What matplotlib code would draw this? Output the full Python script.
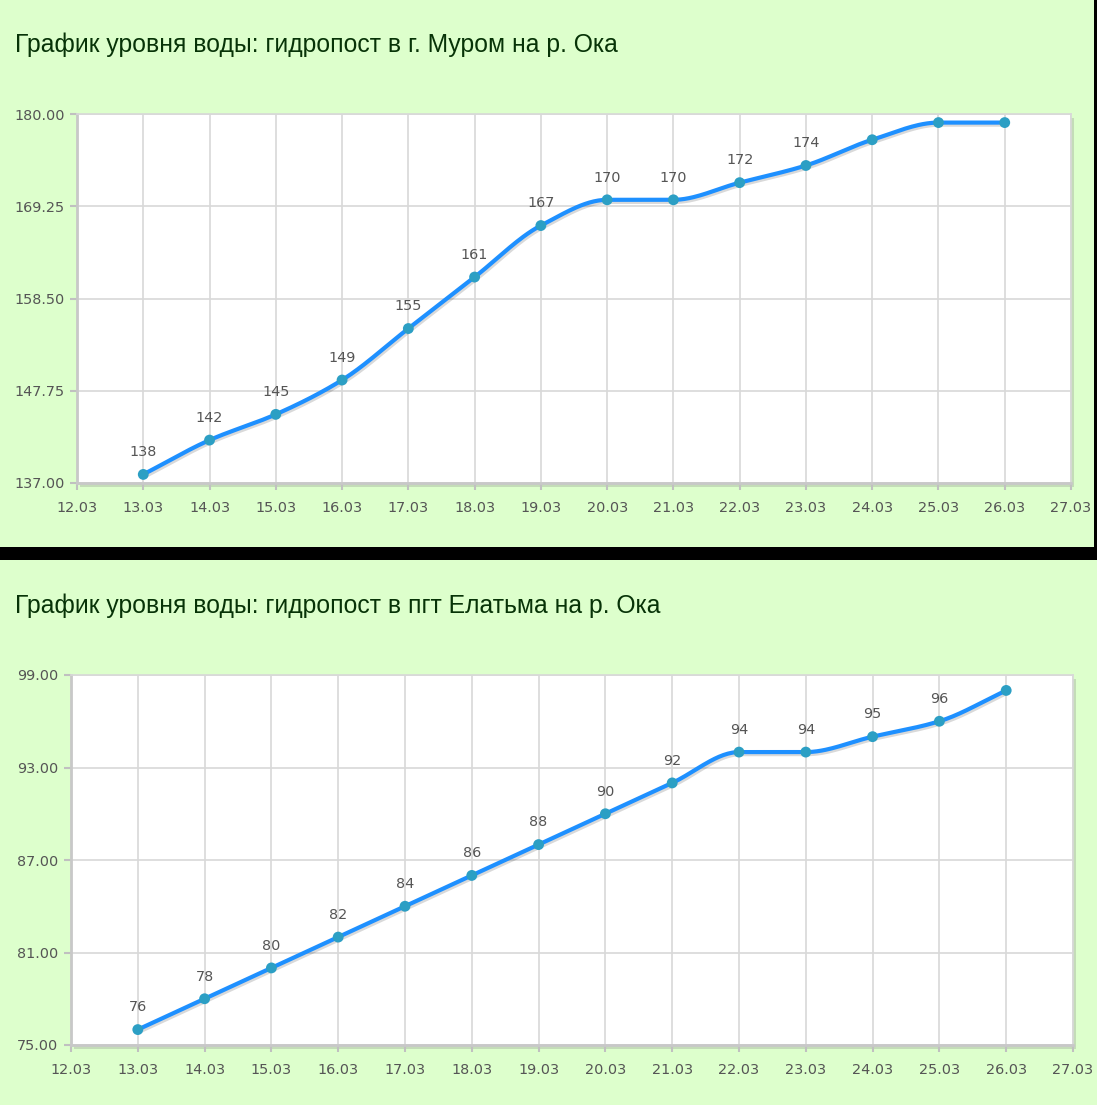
import numpy as np
import matplotlib
matplotlib.use('Agg')
import matplotlib.pyplot as plt
import matplotlib.patheffects as pe
from matplotlib.patches import Rectangle

# данные
dni = [13, 14, 15, 16, 17, 18, 19, 20, 21, 22, 23, 24, 25, 26]
murom = [138, 142, 145, 149, 155, 161, 167, 170, 170, 172, 174, 177, 179, 179]
elatma = [76, 78, 80, 82, 84, 86, 88, 90, 92, 94, 94, 95, 96, 98]
x_ticks = list(range(12, 28))
x_labels = ['%02d.03' % d for d in x_ticks]
murom_yticks = [137.00, 147.75, 158.50, 169.25, 180.00]
elatma_yticks = [75.00, 81.00, 87.00, 93.00, 99.00]

title_murom = 'График уровня воды: гидропост в г. Муром на р. Ока'
title_elatma = 'График уровня воды: гидропост в пгт Елатьма на р. Ока'

FON = '#ddffcc'
W, H = 1097, 1105


def pchip(x, y, n=30):
    # монотонная кубическая интерполяция (Fritsch-Carlson) для гладкой линии
    x = np.asarray(x, float)
    y = np.asarray(y, float)
    h = np.diff(x)
    d = np.diff(y) / h
    m = np.zeros_like(y)
    for i in range(1, len(y) - 1):
        if d[i - 1] * d[i] > 0:
            w1 = 2 * h[i] + h[i - 1]
            w2 = h[i] + 2 * h[i - 1]
            m[i] = (w1 + w2) / (w1 / d[i - 1] + w2 / d[i])
    m[0] = d[0]
    m[-1] = d[-1]
    xs, ys = [], []
    for i in range(len(x) - 1):
        t = np.linspace(0, 1, n, endpoint=False)
        h00 = 2 * t**3 - 3 * t**2 + 1
        h10 = t**3 - 2 * t**2 + t
        h01 = -2 * t**3 + 3 * t**2
        h11 = t**3 - t**2
        xs.append(x[i] + t * h[i])
        ys.append(h00 * y[i] + h10 * h[i] * m[i] + h01 * y[i + 1] + h11 * h[i] * m[i + 1])
    xs.append([x[-1]])
    ys.append([y[-1]])
    return np.concatenate(xs), np.concatenate(ys)


def panel(fig, rect, values, yticks, title, title_y):
    l, b, w, h = rect
    # тень области графика
    fig.patches.append(Rectangle((l + 3 / W, b - 4 / H), w, h, transform=fig.transFigure,
                                 facecolor='#c4dcb8', edgecolor='none', zorder=-5))
    ax = fig.add_axes(rect)
    ax.set_facecolor('white')
    ax.set_xlim(x_ticks[0], x_ticks[-1])
    ax.set_ylim(yticks[0], yticks[-1])
    ax.set_xticks(x_ticks)
    ax.set_xticklabels(x_labels)
    ax.set_yticks(yticks)
    ax.set_yticklabels(['%.2f' % v for v in yticks])
    ax.grid(True, color='#d8d8d8', linewidth=1.2)
    ax.set_axisbelow(True)
    for s in ax.spines.values():
        s.set_color('#d8d8d8')
        s.set_linewidth(1.2)
    ax.spines['left'].set_color('#c8c8c8')
    ax.spines['left'].set_linewidth(2)
    ax.spines['bottom'].set_color('#c8c8c8')
    ax.spines['bottom'].set_linewidth(2)
    ax.tick_params(axis='both', colors='#c0c0c0', labelcolor='#555555',
                   labelsize=10.4, length=5, width=1.5)
    ax.tick_params(axis='x', pad=8)
    ax.tick_params(axis='y', pad=4)

    xs, ys = pchip(dni, values)
    shadow = [pe.SimpleLineShadow(offset=(1, -1.5), shadow_color='black', alpha=0.15),
              pe.Normal()]
    ax.plot(xs, ys, color='#1e90ff', linewidth=3, solid_capstyle='round',
            path_effects=shadow, zorder=3)
    ax.plot(dni, values, 'o', color='#2c9fc4', markersize=7.8, markeredgewidth=0,
            path_effects=shadow, zorder=4)

    span = yticks[-1] - yticks[0]
    hpx = h * H
    for d, v in zip(dni, values):
        if (yticks[-1] - v) / span * hpx > 30:
            ax.annotate(str(v), (d, v), xytext=(0, 16), textcoords='offset points',
                        ha='center', va='center', fontsize=10.4, color='#555555')
    fig.text(15 / W, title_y, title, fontsize=17.8, color='#073307',
             family='Liberation Sans', va='center', ha='left')
    return ax


fig = plt.figure(figsize=(W / 100, H / 100), dpi=100, facecolor=FON)
# черная полоса между панелями и справа у верхней
fig.patches.append(Rectangle((0, 1 - 560 / H), 1, 13 / H, transform=fig.transFigure,
                             facecolor='black', edgecolor='none', zorder=-5))
fig.patches.append(Rectangle((1094 / W, 1 - 560 / H), 3 / W, 560 / H, transform=fig.transFigure,
                             facecolor='black', edgecolor='none', zorder=-5))

panel(fig, [77 / W, 1 - 483 / H, 994 / W, 369 / H], murom, murom_yticks,
      title_murom, 1 - 45 / H)
panel(fig, [71 / W, 1 - 1045 / H, 1002 / W, 370 / H], elatma, elatma_yticks,
      title_elatma, 1 - 606 / H)

fig.savefig('out.png', dpi=100, facecolor=FON)
